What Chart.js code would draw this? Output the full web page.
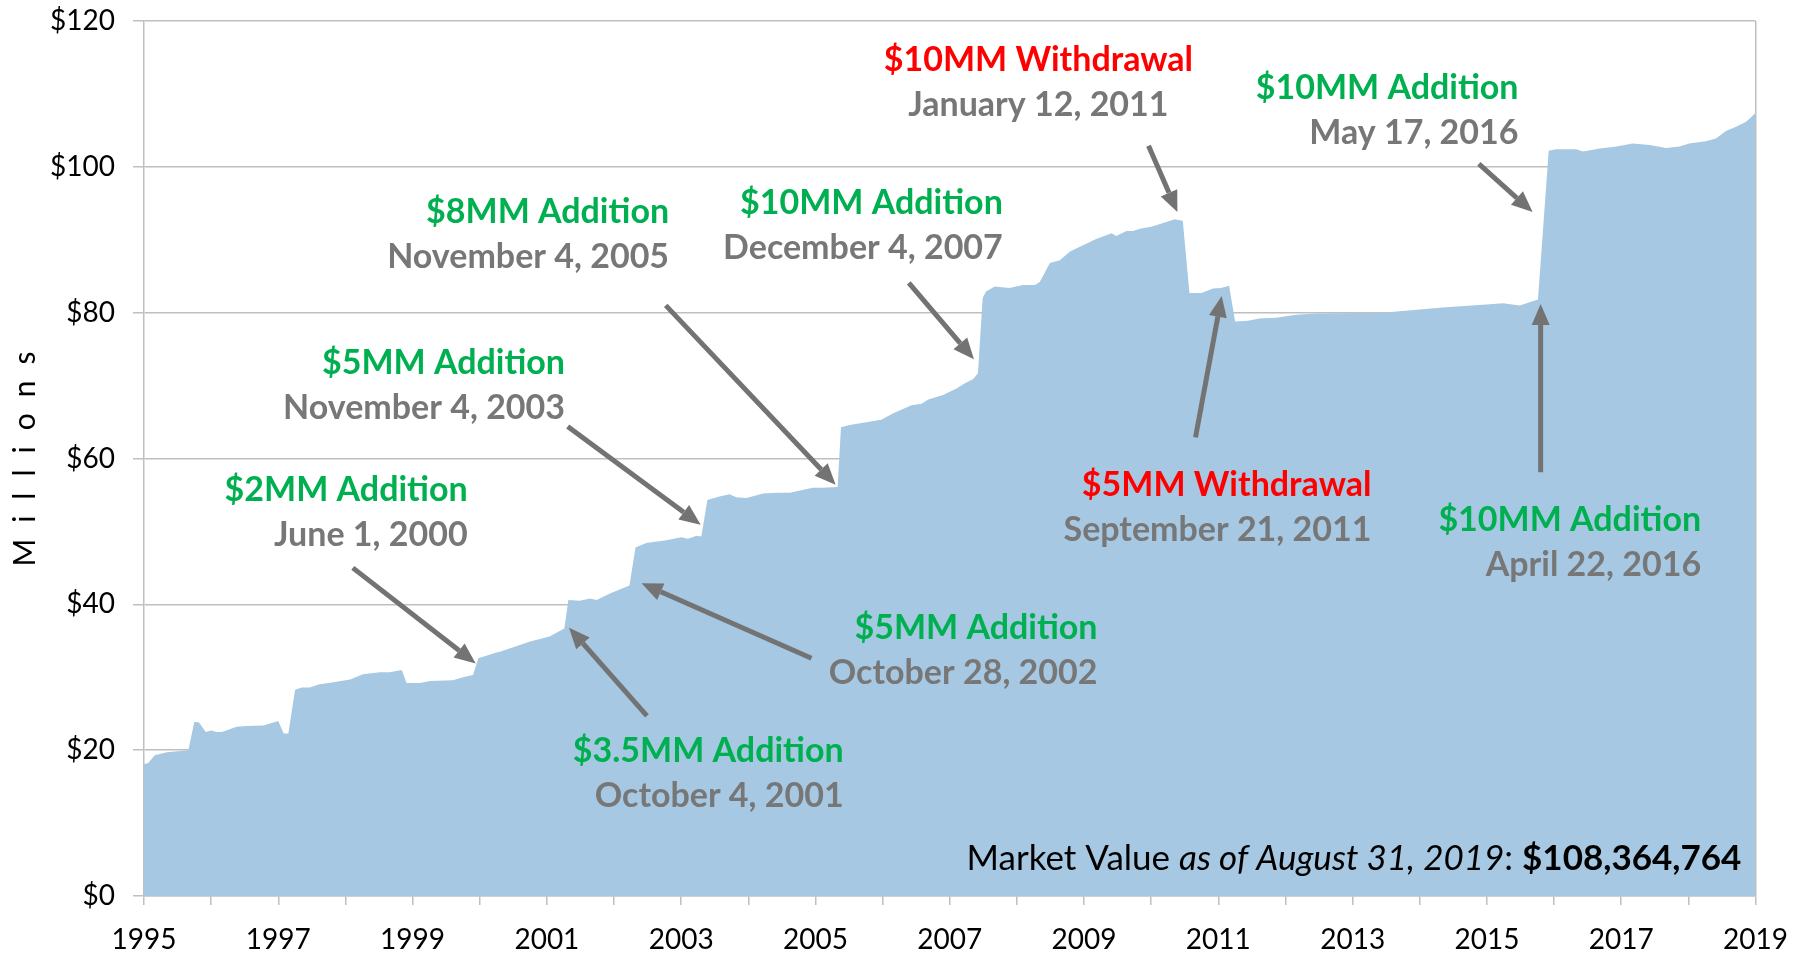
<!DOCTYPE html>
<html>
<head>
<meta charset="utf-8">
<script src="https://cdn.jsdelivr.net/npm/chart.js@4/dist/chart.umd.min.js"></script>
<style>
  body { margin: 0; background: #fff; }
  #wrap { width: 1806px; height: 953px; }
</style>
</head>
<body>
<div id="wrap"><canvas id="fundChart"></canvas></div>
<script>
// market value history (years as decimals, values in $ millions)
const years = [
  1995.00, 1995.06, 1995.16, 1995.34, 1995.66, 1995.75, 1995.82, 1995.92, 1996.00, 1996.08,
  1996.16, 1996.38, 1996.53, 1996.78, 1997.00, 1997.08, 1997.15, 1997.25, 1997.35, 1997.47,
  1997.60, 1997.82, 1998.07, 1998.26, 1998.51, 1998.66, 1998.84, 1998.91, 1999.11, 1999.26,
  1999.60, 1999.75, 1999.90, 1999.98, 2000.25, 2000.30, 2000.75, 2001.04, 2001.26, 2001.32,
  2001.49, 2001.64, 2001.74, 2001.94, 2002.23, 2002.32, 2002.48, 2002.78, 2003.00, 2003.10,
  2003.23, 2003.30, 2003.39, 2003.57, 2003.72, 2003.82, 2003.97, 2004.22, 2004.42, 2004.62,
  2004.82, 2004.96, 2005.11, 2005.33, 2005.38, 2005.51, 2005.98, 2006.16, 2006.43, 2006.58,
  2006.68, 2006.90, 2007.10, 2007.22, 2007.35, 2007.42, 2007.49, 2007.54, 2007.67, 2007.89,
  2008.09, 2008.27, 2008.34, 2008.41, 2008.49, 2008.64, 2008.79, 2008.93, 2009.18, 2009.41,
  2009.48, 2009.63, 2009.73, 2009.83, 2010.00, 2010.18, 2010.35, 2010.47, 2010.57, 2010.75,
  2010.92, 2011.04, 2011.16, 2011.25, 2011.44, 2011.61, 2011.86, 2012.16, 2012.46, 2013.45,
  2014.34, 2014.94, 2015.24, 2015.49, 2015.76, 2015.92, 2016.03, 2016.33, 2016.43, 2016.68,
  2016.93, 2017.17, 2017.42, 2017.67, 2017.87, 2018.01, 2018.26, 2018.41, 2018.56, 2018.71,
  2018.86, 2019.00
];
const values = [
  18.1, 18.2, 19.3, 19.7, 20.0, 23.9, 23.8, 22.5, 22.7, 22.5,
  22.5, 23.2, 23.3, 23.4, 24.0, 22.3, 22.3, 28.3, 28.6, 28.6,
  29.0, 29.3, 29.7, 30.4, 30.7, 30.7, 31.0, 29.2, 29.2, 29.5,
  29.6, 30.0, 30.3, 32.6, 33.4, 33.5, 34.9, 35.6, 36.7, 40.6,
  40.5, 40.8, 40.6, 41.5, 42.6, 47.8, 48.4, 48.8, 49.2, 49.0,
  49.4, 49.3, 54.3, 54.8, 55.1, 54.7, 54.6, 55.2, 55.3, 55.3,
  55.7, 56.0, 56.0, 56.1, 64.3, 64.6, 65.3, 66.2, 67.3, 67.5,
  68.1, 68.7, 69.6, 70.3, 70.9, 71.7, 82.0, 82.9, 83.6, 83.4,
  83.8, 83.8, 84.2, 85.4, 86.8, 87.2, 88.4, 89.0, 90.1, 90.9,
  90.5, 91.2, 91.2, 91.5, 91.8, 92.3, 92.8, 92.6, 82.7, 82.7,
  83.3, 83.4, 83.7, 78.8, 78.9, 79.2, 79.3, 79.7, 79.9, 80.0,
  80.7, 81.1, 81.3, 81.0, 81.8, 102.2, 102.4, 102.4, 102.1, 102.5,
  102.8, 103.2, 103.0, 102.6, 102.8, 103.2, 103.5, 103.9, 104.9, 105.5,
  106.2, 107.4
];

const yTicks = [0, 20, 40, 60, 80, 100, 120];

// annotation labels: [year, value, align, title, titleColor, date]
const GREEN = '#00B050', RED = '#FF0000', GRAY = '#777777';
const notes = [
  [1999.82, 55.7, 'right', '$2MM Addition', GREEN, 'June 1, 2000'],
  [2005.42, 19.9, 'right', '$3.5MM Addition', GREEN, 'October 4, 2001'],
  [2009.20, 36.8, 'right', '$5MM Addition', GREEN, 'October 28, 2002'],
  [2001.27, 73.1, 'right', '$5MM Addition', GREEN, 'November 4, 2003'],
  [2002.82, 93.8, 'right', '$8MM Addition', GREEN, 'November 4, 2005'],
  [2007.79, 95.0, 'right', '$10MM Addition', GREEN, 'December 4, 2007'],
  [2008.32, 114.6, 'center', '$10MM Withdrawal', RED, 'January 12, 2011'],
  [2015.47, 110.8, 'right', '$10MM Addition', GREEN, 'May 17, 2016'],
  [2013.28, 56.4, 'right', '$5MM Withdrawal', RED, 'September 21, 2011'],
  [2018.19, 51.6, 'right', '$10MM Addition', GREEN, 'April 22, 2016']
];

// arrows: [fromYear, fromValue, toYear, toValue]
const arrows = [
  [1998.11, 45.0, 1999.94, 31.9],
  [2002.49, 24.7, 2001.33, 36.8],
  [2004.94, 32.6, 2002.41, 42.9],
  [2001.31, 64.4, 2003.29, 50.9],
  [2002.77, 81.0, 2005.30, 56.4],
  [2006.39, 84.1, 2007.36, 73.6],
  [2009.96, 102.9, 2010.39, 93.8],
  [2014.88, 100.4, 2015.68, 93.8],
  [2010.66, 62.9, 2011.05, 82.3],
  [2015.80, 58.1, 2015.80, 81.2]
];

const FONT = 'Lato, "Open Sans", sans-serif';

function drawArrow(ctx, x1, y1, x2, y2) {
  const ang = Math.atan2(y2 - y1, x2 - x1);
  const headLen = 21, headW = 9;
  const bx = x2 - headLen * Math.cos(ang), by = y2 - headLen * Math.sin(ang);
  ctx.save();
  ctx.strokeStyle = '#737373';
  ctx.fillStyle = '#737373';
  ctx.lineWidth = 5;
  ctx.beginPath();
  ctx.moveTo(x1, y1);
  ctx.lineTo(bx, by);
  ctx.stroke();
  ctx.beginPath();
  ctx.moveTo(x2, y2);
  ctx.lineTo(bx + headW * Math.sin(ang), by - headW * Math.cos(ang));
  ctx.lineTo(bx - headW * Math.sin(ang), by + headW * Math.cos(ang));
  ctx.closePath();
  ctx.fill();
  ctx.restore();
}

const notesPlugin = {
  id: 'notes',
  afterDatasetsDraw(chart) {
    const { ctx, scales: { x, y } } = chart;

    arrows.forEach(a => {
      drawArrow(ctx, x.getPixelForValue(a[0]), y.getPixelForValue(a[1]),
        x.getPixelForValue(a[2]), y.getPixelForValue(a[3]));
    });

    ctx.save();
    ctx.textBaseline = 'middle';
    notes.forEach(n => {
      const px = x.getPixelForValue(n[0]);
      const py = y.getPixelForValue(n[1]);
      ctx.textAlign = n[2];
      ctx.font = 'bold 34px ' + FONT;
      ctx.fillStyle = n[4];
      ctx.fillText(n[3], px, py);
      ctx.fillStyle = GRAY;
      ctx.fillText(n[5], px, py + 45);
    });

    // market value line, drawn right to left
    let rx = x.getPixelForValue(2018.79);
    const ry = y.getPixelForValue(5.1);
    ctx.textAlign = 'right';
    ctx.fillStyle = '#000';
    const parts = [
      ['bold 35px ', '$108,364,764'],
      ['35px ', ': '],
      ['italic 35px ', 'as of August 31, 2019'],
      ['35px ', 'Market Value ']
    ];
    parts.forEach(p => {
      ctx.font = p[0] + FONT;
      ctx.fillText(p[1], rx, ry);
      rx -= ctx.measureText(p[1]).width;
    });
    ctx.restore();
  },
  afterDraw(chart) {
    const { ctx } = chart;
    ctx.save();
    ctx.translate(25, 459);
    ctx.rotate(-Math.PI / 2);
    ctx.font = '30px ' + FONT;
    ctx.letterSpacing = '16px';
    ctx.fillStyle = '#000';
    ctx.textAlign = 'center';
    ctx.textBaseline = 'middle';
    ctx.fillText('Millions', 8, 0);
    ctx.restore();
  }
};

const ctx = document.getElementById('fundChart').getContext('2d');
new Chart(ctx, {
  type: 'line',
  data: {
    datasets: [{
      data: years.map((yr, i) => ({ x: yr, y: values[i] })),
      backgroundColor: '#A6C8E2',
      borderWidth: 0,
      pointRadius: 0,
      fill: 'origin',
      tension: 0
    }]
  },
  options: {
    responsive: true,
    maintainAspectRatio: false,
    animation: false,
    layout: { padding: { top: 21, right: 50, left: 0, bottom: 0 } },
    plugins: {
      legend: { display: false },
      tooltip: { enabled: false }
    },
    scales: {
      x: {
        type: 'linear',
        min: 1995,
        max: 2019,
        afterFit: s => { s.height = 57; },
        ticks: {
          stepSize: 1,
          autoSkip: false,
          maxRotation: 0,
          padding: 18,
          color: '#000',
          font: { family: FONT, size: 28 },
          callback: v => (v % 2 === 1 ? String(v) : '')
        },
        grid: {
          color: c => (c.tick && c.tick.value === 2019 ? '#BFBFBF' : 'rgba(0,0,0,0)'),
          tickColor: '#BFBFBF',
          tickLength: 9,
          lineWidth: 1.5
        },
        border: { color: '#BFBFBF', width: 1.5 }
      },
      y: {
        min: 0,
        max: 120,
        afterFit: s => { s.width = 144; s.paddingTop = 0; s.paddingBottom = 0; },
        afterBuildTicks: s => { s.ticks = yTicks.map(v => ({ value: v })); },
        ticks: {
          padding: 18,
          color: '#000',
          font: { family: FONT, size: 28 },
          callback: v => '$' + v
        },
        grid: {
          color: '#BFBFBF',
          tickLength: 11,
          lineWidth: 1.5
        },
        border: { color: '#BFBFBF', width: 1.5 }
      }
    }
  },
  plugins: [notesPlugin]
});
</script>
</body>
</html>
